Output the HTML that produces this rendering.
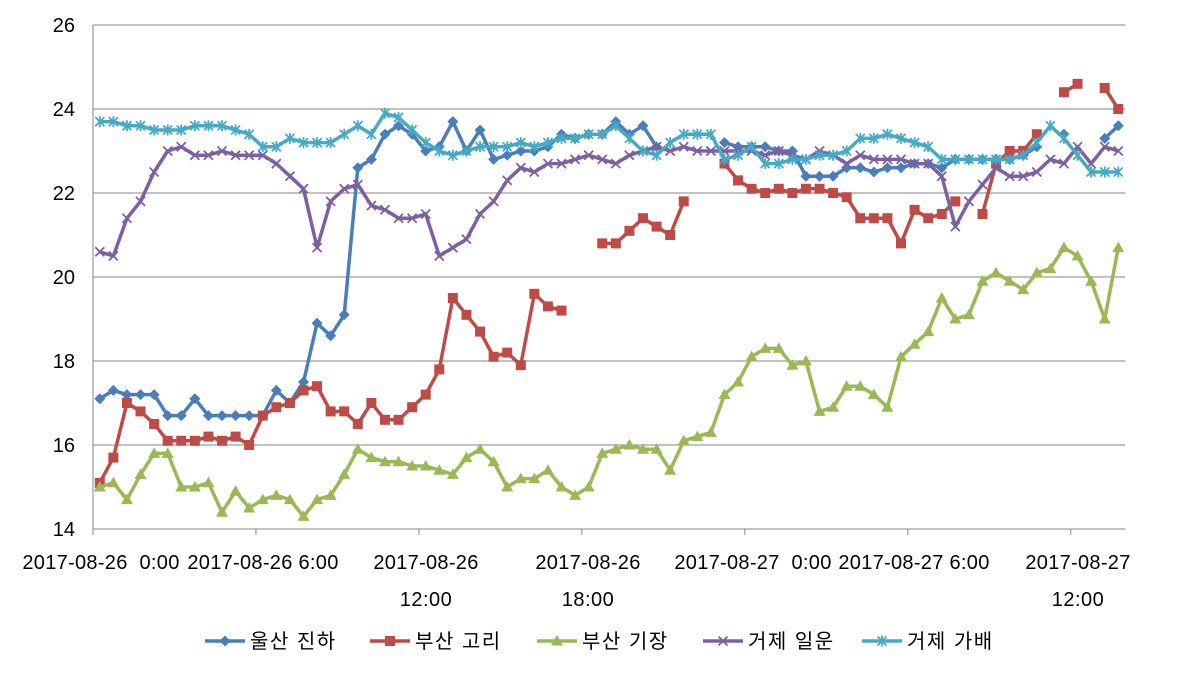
<!DOCTYPE html><html><head><meta charset="utf-8"><style>body{margin:0;background:#fff}svg{display:block}text{font-family:"Liberation Sans","Noto Sans CJK KR",sans-serif;font-size:20px;fill:#000}</style></head><body>
<svg id="s" width="1193" height="674" xmlns="http://www.w3.org/2000/svg"></svg>
<script>
const s=document.getElementById('s');let h='';
const Y=v=>25+(26-v)*42, X=i=>93+13.58*(i+0.5);
for(let v=14;v<=26;v+=2){h+=`<line x1="93" x2="1125" y1="${Y(v)}" y2="${Y(v)}" stroke="#868686" stroke-width="1"/>`;h+=`<text x="75" y="${Y(v)+7}" text-anchor="end">${v}</text>`;}
h+=`<line x1="93" x2="93" y1="25" y2="529" stroke="#868686"/>`;
for(let k=0;k<=6;k++){const x=93+k*12*13.58;h+=`<line x1="${x}" x2="${x}" y1="529" y2="535" stroke="#868686"/>`;}
const lab=[[101,'2017-08-26 0:00'],[263,'2017-08-26 6:00'],[426,'2017-08-26','12:00'],[588,'2017-08-26','18:00'],[753,'2017-08-27 0:00'],[914,'2017-08-27 6:00'],[1078,'2017-08-27','12:00']];
lab.forEach(l=>{h+=`<text x="${l[0]}" y="569" text-anchor="middle" letter-spacing="0.3" word-spacing="${l[1].includes(' 0:00')?6:0}">${l[1]}</text>`;if(l[2])h+=`<text x="${l[0]}" y="606" text-anchor="middle" letter-spacing="0.5">${l[2]}</text>`;});
const N=null;
const d={
b:[17.1,17.3,17.2,17.2,17.2,16.7,16.7,17.1,16.7,16.7,16.7,16.7,16.7,17.3,17.0,17.5,18.9,18.6,19.1,22.6,22.8,23.4,23.6,23.4,23.0,23.1,23.7,23.0,23.5,22.8,22.9,23.0,23.0,23.1,23.4,23.3,23.4,23.4,23.7,23.4,23.6,23.1,N,N,N,N,23.2,23.1,23.1,23.1,23.0,23.0,22.4,22.4,22.4,22.6,22.6,22.5,22.6,22.6,22.7,22.7,22.6,22.8,22.8,22.8,22.8,22.8,22.9,23.1,N,23.4,N,N,23.3,23.6],
r:[15.1,15.7,17.0,16.8,16.5,16.1,16.1,16.1,16.2,16.1,16.2,16.0,16.7,16.9,17.0,17.3,17.4,16.8,16.8,16.5,17.0,16.6,16.6,16.9,17.2,17.8,19.5,19.1,18.7,18.1,18.2,17.9,19.6,19.3,19.2,N,N,20.8,20.8,21.1,21.4,21.2,21.0,21.8,N,N,22.7,22.3,22.1,22.0,22.1,22.0,22.1,22.1,22.0,21.9,21.4,21.4,21.4,20.8,21.6,21.4,21.5,21.8,N,21.5,22.7,23.0,23.0,23.4,N,24.4,24.6,N,24.5,24.0],
g:[15.0,15.1,14.7,15.3,15.8,15.8,15.0,15.0,15.1,14.4,14.9,14.5,14.7,14.8,14.7,14.3,14.7,14.8,15.3,15.9,15.7,15.6,15.6,15.5,15.5,15.4,15.3,15.7,15.9,15.6,15.0,15.2,15.2,15.4,15.0,14.8,15.0,15.8,15.9,16.0,15.9,15.9,15.4,16.1,16.2,16.3,17.2,17.5,18.1,18.3,18.3,17.9,18.0,16.8,16.9,17.4,17.4,17.2,16.9,18.1,18.4,18.7,19.5,19.0,19.1,19.9,20.1,19.9,19.7,20.1,20.2,20.7,20.5,19.9,19.0,20.7],
p:[20.6,20.5,21.4,21.8,22.5,23.0,23.1,22.9,22.9,23.0,22.9,22.9,22.9,22.7,22.4,22.1,20.7,21.8,22.1,22.2,21.7,21.6,21.4,21.4,21.5,20.5,20.7,20.9,21.5,21.8,22.3,22.6,22.5,22.7,22.7,22.8,22.9,22.8,22.7,22.9,23.0,23.1,23.0,23.1,23.0,23.0,23.0,23.0,23.0,22.9,23.0,22.9,22.8,23.0,22.9,22.7,22.9,22.8,22.8,22.8,22.7,22.7,22.4,21.2,21.8,22.2,22.6,22.4,22.4,22.5,22.8,22.7,23.1,22.7,23.1,23.0],
c:[23.7,23.7,23.6,23.6,23.5,23.5,23.5,23.6,23.6,23.6,23.5,23.4,23.1,23.1,23.3,23.2,23.2,23.2,23.4,23.6,23.4,23.9,23.8,23.5,23.2,23.0,22.9,23.0,23.1,23.1,23.1,23.2,23.1,23.2,23.3,23.3,23.4,23.4,23.6,23.3,23.0,22.9,23.2,23.4,23.4,23.4,22.8,22.9,23.1,22.7,22.7,22.8,22.8,22.9,22.9,23.0,23.3,23.3,23.4,23.3,23.2,23.1,22.8,22.8,22.8,22.8,22.8,22.8,22.9,23.2,23.6,23.3,22.9,22.5,22.5,22.5]};
const col={b:'#4a7ebb',r:'#be4b48',g:'#98b954',p:'#7d60a0',c:'#46aac5'};
function mk(k,x,y,c){
 if(k=='b')return `<path d="M${x} ${y-5.5}L${x+5.5} ${y}L${x} ${y+5.5}L${x-5.5} ${y}Z" fill="${c}"/>`;
 if(k=='r')return `<rect x="${x-5}" y="${y-5}" width="10" height="10" fill="${c}"/>`;
 if(k=='g')return `<path d="M${x} ${y-6}L${x+6} ${y+4.5}L${x-6} ${y+4.5}Z" fill="${c}"/>`;
 if(k=='p')return `<path d="M${x-4.5} ${y-4.5}L${x+4.5} ${y+4.5}M${x+4.5} ${y-4.5}L${x-4.5} ${y+4.5}" stroke="${c}" stroke-width="1.8"/>`;
 return `<path d="M${x-4.5} ${y-4.5}L${x+4.5} ${y+4.5}M${x+4.5} ${y-4.5}L${x-4.5} ${y+4.5}M${x} ${y-5.5}L${x} ${y+5.5}" stroke="${c}" stroke-width="1.8"/>`;}
['b','r','g','p','c'].forEach(k=>{const a=d[k],c=col[k];let segs=[],cur=[];
 a.forEach((v,i)=>{if(v==null){if(cur.length)segs.push(cur);cur=[];}else cur.push([X(i),Y(v)]);});if(cur.length)segs.push(cur);
 segs.forEach(sg=>{h+=`<polyline points="${sg.map(p=>p.join(',')).join(' ')}" fill="none" stroke="${c}" stroke-width="3.5" stroke-linejoin="round"/>`;sg.forEach(p=>h+=mk(k,p[0],p[1],c));});});
const lg=[['b',205,'울산 진하'],['r',370,'부산 고리'],['g',537,'부산 기장'],['p',703,'거제 일운'],['c',862,'거제 가배']];
lg.forEach(l=>{h+=`<line x1="${l[1]}" x2="${l[1]+40}" y1="641" y2="641" stroke="${col[l[0]]}" stroke-width="3.5"/>`+mk(l[0],l[1]+20,641,col[l[0]])+`<text x="${l[1]+45}" y="648" letter-spacing="1.5">${l[2]}</text>`;});
s.innerHTML=h;
</script></body></html>
